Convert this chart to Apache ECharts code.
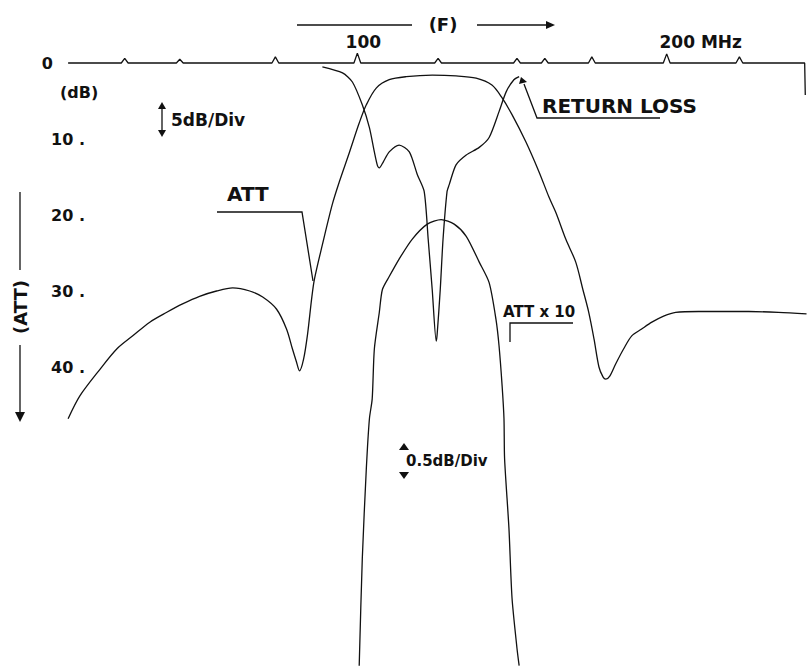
<!DOCTYPE html>
<html>
<head>
<meta charset="utf-8">
<script src="https://cdn.jsdelivr.net/npm/echarts@6/dist/echarts.min.js"></script>
<style>
  html, body { margin: 0; padding: 0; background: #fff; }
  #chart { width: 812px; height: 671px; }
</style>
</head>
<body>
<div id="chart"></div>
<script>
// frequency in MHz, level in dB (axis runs downward)
const attCurve = [
  [6.5, 46.8], [10.3, 43.8], [16.8, 40.3], [22.3, 37.6], [27.4, 35.9], [32.9, 34.1],
  [38.4, 32.8], [43.5, 31.7], [49.0, 30.7], [54.5, 30.0], [59.7, 29.6], [65.2, 30.0],
  [69.4, 30.8], [73.9, 32.4], [77.1, 35.0], [79.0, 37.6], [80.3, 39.3], [81.3, 40.5],
  [82.6, 39.0], [83.9, 35.7], [85.2, 31.1], [86.1, 28.5], [88.7, 23.9], [91.9, 18.6],
  [94.2, 15.6], [97.4, 11.8], [100.6, 7.9], [102.9, 5.5], [106.1, 3.3], [110.3, 2.2],
  [115.8, 1.8], [124.2, 1.6], [131.9, 1.7], [138.4, 2.0], [143.5, 2.9], [146.8, 4.6],
  [150.0, 6.8], [154.5, 10.4], [158.7, 14.3], [161.9, 17.6], [164.2, 19.7], [167.4, 23.2],
  [170.6, 26.2], [172.9, 29.8], [174.8, 32.8], [176.5, 36.3], [178.1, 40.0], [179.4, 41.3],
  [180.3, 41.6], [181.6, 41.2], [183.5, 39.6], [186.1, 37.6], [188.7, 35.9], [191.9, 35.0],
  [195.2, 34.1], [199.0, 33.3], [202.9, 32.8], [210.3, 32.7], [226.5, 32.7], [236.1, 32.8],
  [245.2, 33.0]
];

const returnLoss = [
  [88.7, 0.5], [95.2, 1.3], [98.4, 2.5], [101.6, 5.5], [103.9, 8.5], [105.5, 11.7],
  [106.5, 13.5], [107.1, 13.8], [108.4, 13.0], [110.3, 11.7], [113.5, 10.8], [116.8, 11.7],
  [119.4, 14.7], [121.6, 16.9], [122.9, 23.2], [124.2, 29.8], [125.5, 36.6], [125.8, 35.7],
  [126.8, 29.8], [127.7, 23.2], [129.0, 16.9], [129.7, 16.0], [131.9, 13.4], [135.2, 12.1],
  [139.4, 11.1], [142.6, 9.8], [145.8, 6.4], [148.1, 3.8], [150.6, 2.2], [152.3, 1.8]
];

// passband attenuation, expanded x10
const attX10 = [
  [100.6, 79.3], [101.6, 65.2], [102.9, 53.4], [103.9, 46.8], [104.8, 44.2], [105.5, 37.6],
  [107.1, 32.8], [108.1, 29.8], [110.3, 28.1], [113.5, 25.8], [117.7, 23.2], [122.6, 21.2],
  [127.1, 20.6], [131.3, 21.2], [135.2, 22.8], [139.4, 26.2], [142.6, 28.9], [144.8, 33.7],
  [145.8, 37.2], [146.8, 42.5], [147.4, 46.8], [147.6, 52.1], [149.0, 61.2], [150.0, 70.4],
  [151.6, 77.0], [152.3, 79.3]
];

// 0 dB reference sweep with its frequency markers
const markerFreq = [24.8, 42.6, 73.5, 100.0, 126.1, 151.6, 160.6, 175.8, 200.0, 223.5];
const markerHeight = [-0.6, -0.5, -0.8, -1.3, -0.6, -0.6, -0.6, -0.8, -1.2, -0.8];

const dbTicks = [0, 10, 20, 30, 40];
const dbTickLabels = ['0', '10 .', '20 .', '30 .', '40 .'];
const freqTicks = [100, 200];
const freqTickLabels = ['100', '200 MHz'];

const baseline = [[6.5, 0]];
markerFreq.forEach((f, i) => {
  baseline.push([f - 1.1, 0], [f, markerHeight[i]], [f + 1.1, 0]);
});
baseline.push([244.6, 0], [244.8, 4.2]);

const FONT = 'DejaVu Sans';
const INK = '#111';

const chart = echarts.init(document.getElementById('chart'), null, { renderer: 'svg' });

const txt = (x, y, text, size, align, rotation) => ({
  type: 'text', x, y, rotation: rotation || 0,
  style: {
    text, fill: INK, font: `bold ${size}px "${FONT}"`,
    textAlign: align || 'left', textVerticalAlign: 'middle'
  }
});
const pl = (points) => ({
  type: 'polyline', shape: { points },
  style: { stroke: INK, lineWidth: 1.3, fill: null }
});
const tri = (points) => ({
  type: 'polygon', shape: { points }, style: { fill: INK }
});

const lineSeries = (name, data, smooth) => ({
  name, type: 'line', data, smooth, clip: false,
  showSymbol: false, symbol: 'none', silent: true,
  lineStyle: { color: INK, width: 1.3 }
});

const labelFont = { fontFamily: FONT, fontWeight: 'bold', color: INK };

chart.setOption({
  animation: false,
  backgroundColor: '#fff',
  grid: { left: 48, right: 1, top: 63, bottom: -2 },
  xAxis: {
    type: 'value', position: 'top', min: 0, max: 246, interval: 100,
    axisLine: { show: false }, axisTick: { show: false }, splitLine: { show: false },
    axisLabel: Object.assign({}, labelFont, {
      margin: 13, fontSize: 17,
      formatter: (v) => {
        const i = freqTicks.indexOf(v);
        if (i < 0) return '';
        return (i === 0 ? '{a|' : '{b|') + freqTickLabels[i] + '}';
      },
      rich: {
        a: Object.assign({ fontSize: 17, padding: [0, 0, 0, 12] }, labelFont),
        b: Object.assign({ fontSize: 17, padding: [0, 0, 0, 68] }, labelFont)
      }
    })
  },
  yAxis: {
    type: 'value', inverse: true, min: 0, max: 80, interval: 10,
    axisLine: { show: false }, axisTick: { show: false }, splitLine: { show: false },
    axisLabel: Object.assign({}, labelFont, {
      margin: -37, fontSize: 16,
      formatter: (v) => {
        const i = dbTicks.indexOf(v);
        if (i < 0) return '';
        return (i === 0 ? '{z|' : '{n|') + dbTickLabels[i] + '}';
      },
      rich: {
        z: Object.assign({ fontSize: 16, padding: [0, 32, 0, 0] }, labelFont),
        n: Object.assign({ fontSize: 16 }, labelFont)
      }
    })
  },
  series: [
    lineSeries('reference', baseline, false),
    lineSeries('ATT', attCurve, 0.3),
    lineSeries('RETURN LOSS', returnLoss, 0.25),
    lineSeries('ATT x 10', attX10, 0.25)
  ],
  graphic: [
    // frequency arrow
    pl([[297, 25], [412, 25]]),
    pl([[477, 25], [549, 25]]),
    tri([[546, 21], [555, 25], [546, 29]]),
    txt(443, 24, '(F)', 18, 'center'),
    txt(60, 92, '(dB)', 16),
    // 5dB/Div
    pl([[162, 106], [162, 133]]),
    tri([[158, 109], [162, 102], [166, 109]]),
    tri([[158, 130], [162, 137], [166, 130]]),
    txt(171, 120, '5dB/Div', 17),
    // ATT label
    txt(227, 194, 'ATT', 20),
    pl([[217, 212], [302, 212], [313, 281]]),
    // vertical (ATT) axis title
    pl([[20, 192], [20, 270]]),
    pl([[20, 345], [20, 414]]),
    tri([[15, 412], [20, 422], [25, 412]]),
    txt(20, 307, '(ATT)', 18, 'center', Math.PI / 2),
    // RETURN LOSS label
    txt(542, 106, 'RETURN LOSS', 20),
    pl([[660, 118], [537, 118], [524, 84]]),
    tri([[519, 84], [521, 77], [527, 82]]),
    // ATT x 10 label
    txt(503, 312, 'ATT x 10', 15),
    pl([[573, 323], [510, 323], [510, 342]]),
    // 0.5dB/Div
    tri([[399, 450], [404, 443], [409, 450]]),
    tri([[399, 472], [404, 479], [409, 472]]),
    txt(406, 461, '0.5dB/Div', 15)
  ]
});
</script>
</body>
</html>
